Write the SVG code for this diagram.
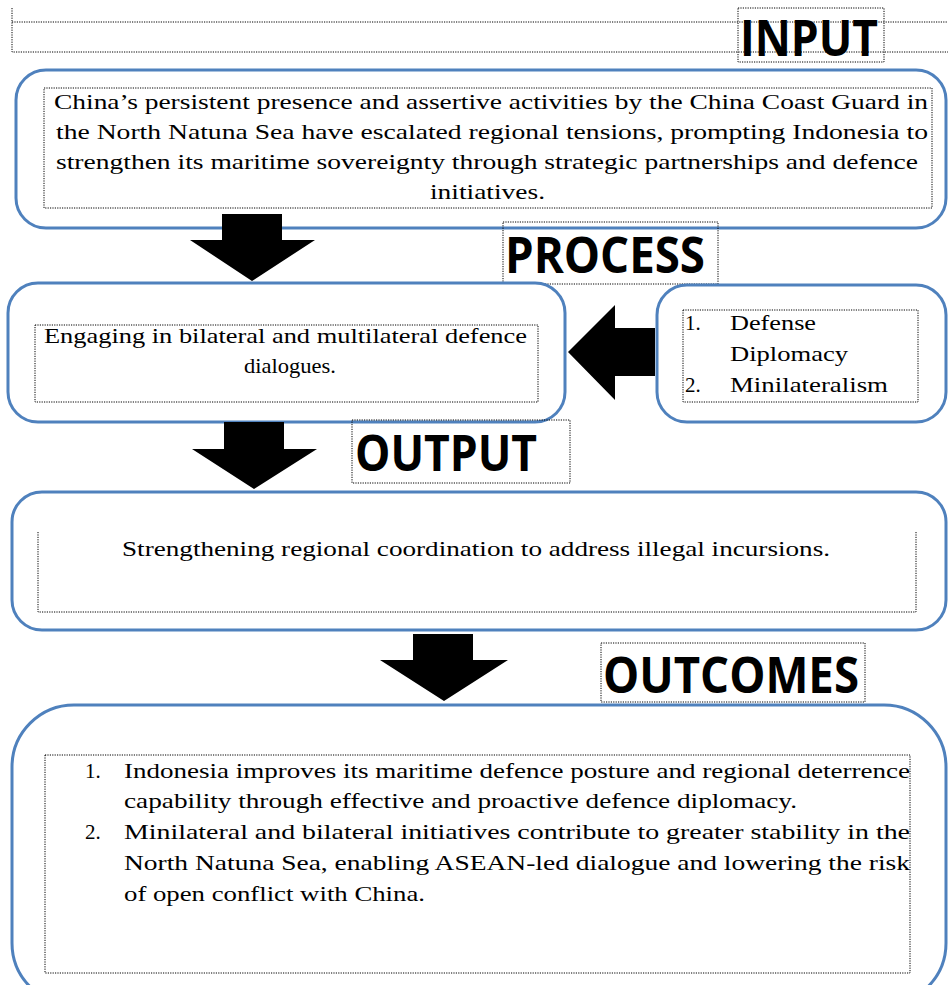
<svg xmlns="http://www.w3.org/2000/svg" width="948" height="985" viewBox="0 0 948 985">
<style>
.box{fill:#fff;stroke:#4F81BD;stroke-width:3}
.dot{fill:none;stroke:#000;stroke-width:1;stroke-dasharray:1.2 1.2}
.hd{font-family:"Liberation Sans Narrow","Open Sans","Liberation Sans",sans-serif;font-weight:bold;font-size:50px;fill:#000}
.tx{font-family:"Liberation Serif","DejaVu Serif",serif;font-size:21px;fill:#000}
.arr{fill:#000}
</style>
<rect width="948" height="985" fill="#fff"/>
<g id="top-frame">
<path class="dot" d="M12,8 V52 H948 M12,22 H948"/>
</g>
<g id="label-input">
<rect class="dot" x="738" y="8" width="146" height="54" fill="#fff"/>
<text class="hd" x="740" y="56" textLength="138" lengthAdjust="spacingAndGlyphs">INPUT</text>
</g>
<g id="node-input">
<rect class="box" x="16" y="70" width="930" height="158" rx="30"/>
<rect class="dot" x="44" y="88" width="888" height="120"/>
<text class="tx" x="54" y="109" textLength="874" lengthAdjust="spacingAndGlyphs">China’s persistent presence and assertive activities by the China Coast Guard in</text>
<text class="tx" x="56" y="139" textLength="872" lengthAdjust="spacingAndGlyphs">the North Natuna Sea have escalated regional tensions, prompting Indonesia to</text>
<text class="tx" x="56" y="169" textLength="862" lengthAdjust="spacingAndGlyphs">strengthen its maritime sovereignty through strategic partnerships and defence</text>
<text class="tx" x="430" y="199" textLength="115" lengthAdjust="spacingAndGlyphs">initiatives.</text>
</g>
<g id="label-process">
<rect class="dot" x="503" y="222" width="215" height="62" fill="#fff"/>
<text class="hd" x="505" y="273" textLength="200" lengthAdjust="spacingAndGlyphs">PROCESS</text>
</g>
<g id="node-process">
<rect class="box" x="8" y="283" width="557" height="139" rx="30"/>
<rect class="dot" x="35" y="325" width="503" height="77"/>
<text class="tx" x="44" y="343" textLength="483" lengthAdjust="spacingAndGlyphs">Engaging in bilateral and multilateral defence</text>
<text class="tx" x="244" y="373" textLength="92" lengthAdjust="spacingAndGlyphs">dialogues.</text>
</g>
<g id="node-approach">
<rect class="box" x="657" y="285" width="289" height="137" rx="30"/>
<rect class="dot" x="683" y="310" width="235" height="92"/>
<text class="tx" x="685" y="330">1.</text>
<text class="tx" x="730" y="330" textLength="86" lengthAdjust="spacingAndGlyphs">Defense</text>
<text class="tx" x="730" y="361" textLength="118" lengthAdjust="spacingAndGlyphs">Diplomacy</text>
<text class="tx" x="685" y="392">2.</text>
<text class="tx" x="730" y="392" textLength="158" lengthAdjust="spacingAndGlyphs">Minilateralism</text>
</g>
<g id="label-output">
<rect class="dot" x="352" y="420" width="218" height="63" fill="#fff"/>
<text class="hd" x="355" y="471" textLength="182" lengthAdjust="spacingAndGlyphs">OUTPUT</text>
</g>
<g id="node-output">
<rect class="box" x="12" y="492" width="934" height="138" rx="30"/>
<path class="dot" d="M38,532 V612 H916 V532"/>
<text class="tx" x="122" y="556" textLength="708" lengthAdjust="spacingAndGlyphs">Strengthening regional coordination to address illegal incursions.</text>
</g>
<g id="label-outcomes">
<rect class="dot" x="601" y="643" width="264" height="59" fill="#fff"/>
<text class="hd" x="603" y="693" textLength="256" lengthAdjust="spacingAndGlyphs">OUTCOMES</text>
</g>
<g id="node-outcomes">
<rect class="box" x="12" y="705" width="934" height="300" rx="62"/>
<rect class="dot" x="45" y="755" width="865" height="218"/>
<text class="tx" x="85" y="778">1.</text>
<text class="tx" x="124" y="778" textLength="786" lengthAdjust="spacingAndGlyphs">Indonesia improves its maritime defence posture and regional deterrence</text>
<text class="tx" x="124" y="808" textLength="673" lengthAdjust="spacingAndGlyphs">capability through effective and proactive defence diplomacy.</text>
<text class="tx" x="85" y="839">2.</text>
<text class="tx" x="124" y="839" textLength="786" lengthAdjust="spacingAndGlyphs">Minilateral and bilateral initiatives contribute to greater stability in the</text>
<text class="tx" x="124" y="870" textLength="786" lengthAdjust="spacingAndGlyphs">North Natuna Sea, enabling ASEAN-led dialogue and lowering the risk</text>
<text class="tx" x="124" y="901" textLength="301" lengthAdjust="spacingAndGlyphs">of open conflict with China.</text>
</g>
<g id="connectors">
<polygon class="arr" points="222,214 282,214 282,240 315,240 252,281 190,240 222,240"/>
<polygon class="arr" points="655,328 615,328 615,305 568,352 615,400 615,376 655,376"/>
<polygon class="arr" points="224,422 284,422 284,449 317,449 254,489 192,449 224,449"/>
<polygon class="arr" points="413,634 473,634 473,660 508,660 444,701 380,660 413,660"/>
</g>
</svg>
